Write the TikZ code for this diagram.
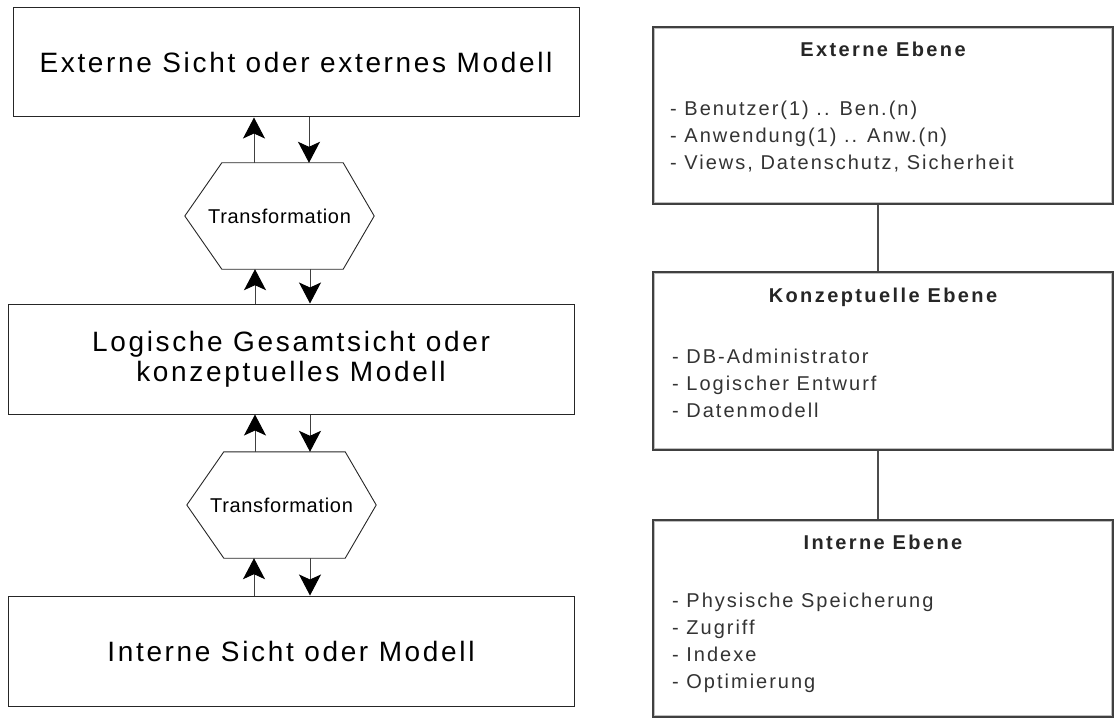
\documentclass[tikz,border=0pt]{standalone}
\usepackage{fontspec}
\setmainfont{Liberation Sans}
\newfontfamily\bigfont[LetterSpace=9.5]{Liberation Sans}
\newfontfamily\hexfont[LetterSpace=3.5]{Liberation Sans}
\newfontfamily\itemfont[LetterSpace=10]{Liberation Sans}
\newfontfamily\titlefont[LetterSpace=12]{Liberation Sans Bold}
\usetikzlibrary{arrows.meta}
\tikzset{
  lbox/.style={draw=black!85, line width=1pt, fill=white, rectangle, inner sep=0pt,
    align=center, font=\bigfont\fontsize{28pt}{30pt}\selectfont},
  hexline/.style={draw=black!85, line width=0.9pt},
  hexnode/.style={rectangle, inner sep=0pt, font=\hexfont\fontsize{20pt}{22pt}\selectfont},
  arr/.style={draw=black!75, line width=1pt, -{Stealth[length=21pt, width=22pt, inset=5pt, color=black]}},
  rbox/.style={draw=black!75, line width=2.5pt, rectangle, inner sep=0pt, fill=white},
  rinner/.style={draw=black!25, line width=1.5pt},
  rtitle/.style={anchor=base, inner sep=0pt, text=black!85, font=\titlefont\fontsize{20pt}{22pt}\selectfont},
  ritem/.style={anchor=base west, inner sep=0pt, text=black!80, font=\itemfont\fontsize{20pt}{22pt}\selectfont},
  rlink/.style={draw=black!70, line width=2pt}
}
\begin{document}
\begin{tikzpicture}[x=1pt, y=-1pt]
\useasboundingbox (0,0) rectangle (1115,719);

% ---------- left diagram ----------
\node[lbox, minimum width=566pt, minimum height=109pt] (b1) at (296,62.5) {Externe Sicht oder externes Modell};
\node[lbox, minimum width=566pt, minimum height=110pt] (b2) at (291,359) {Logische Gesamtsicht oder\\konzeptuelles Modell};
\node[lbox, minimum width=566pt, minimum height=110pt] (b3) at (291,651) {Interne Sicht oder Modell};

\node[hexnode, minimum width=189pt, minimum height=106pt] (h1) at (279.5,216) {Transformation};
\node[hexnode, minimum width=189pt, minimum height=106pt] (h2) at (281.5,505) {Transformation};

\draw[hexline] (h1.west) -- ([xshift=37pt]h1.north west) -- ([xshift=-31pt]h1.north east) -- (h1.east)
  -- ([xshift=-31pt]h1.south east) -- ([xshift=37pt]h1.south west) -- cycle;
\draw[hexline] (h2.west) -- ([xshift=37pt]h2.north west) -- ([xshift=-31pt]h2.north east) -- (h2.east)
  -- ([xshift=-31pt]h2.south east) -- ([xshift=37pt]h2.south west) -- cycle;

% arrows gap 1
\coordinate (u1) at ([xshift=-25.5pt]h1.north);
\coordinate (d1) at ([xshift=29.5pt]h1.north);
\draw[arr] (u1) -- (u1 |- b1.south);
\draw[arr] (d1 |- b1.south) -- (d1);
% arrows gap 2
\coordinate (u2) at ([xshift=-24.5pt]h1.south);
\coordinate (d2) at ([xshift=30.5pt]h1.south);
\draw[arr] (u2 |- b2.north) -- (u2);
\draw[arr] (d2) -- (d2 |- b2.north);
% arrows gap 3
\coordinate (u3) at ([xshift=-26.5pt]h2.north);
\coordinate (d3) at ([xshift=28.5pt]h2.north);
\draw[arr] (u3) -- (u3 |- b2.south);
\draw[arr] (d3 |- b2.south) -- (d3);
% arrows gap 4
\coordinate (u4) at ([xshift=-27.5pt]h2.south);
\coordinate (d4) at ([xshift=28.5pt]h2.south);
\draw[arr] (u4 |- b3.north) -- (u4);
\draw[arr] (d4) -- (d4 |- b3.north);

% ---------- right diagram ----------
\node[rbox, minimum width=460pt, minimum height=177pt] (rA) at (883,115.5) {};
\node[rbox, minimum width=460pt, minimum height=178pt] (rB) at (883,361) {};
\node[rbox, minimum width=460pt, minimum height=197pt] (rC) at (883,618.5) {};
\draw[rinner] ([shift={(2.8pt,-2.8pt)}]rA.north west) rectangle ([shift={(-2.8pt,2.8pt)}]rA.south east);
\draw[rinner] ([shift={(2.8pt,-2.8pt)}]rB.north west) rectangle ([shift={(-2.8pt,2.8pt)}]rB.south east);
\draw[rinner] ([shift={(2.8pt,-2.8pt)}]rC.north west) rectangle ([shift={(-2.8pt,2.8pt)}]rC.south east);

\draw[rlink] ([xshift=-5pt]rA.south) -- ([xshift=-5pt]rB.north);
\draw[rlink] ([xshift=-5pt]rB.south) -- ([xshift=-5pt]rC.north);

\node[rtitle] (tA) at (883,57) {Externe Ebene};
\node[ritem] (a1) at (670,115.5) {- Benutzer(1) .. Ben.(n)};
\node[ritem] (a2) at (670,142.5) {- Anwendung(1) .. Anw.(n)};
\node[ritem] (a3) at (670,169.5) {- Views, Datenschutz, Sicherheit};

\node[rtitle] (tB) at (883,302) {Konzeptuelle Ebene};
\node[ritem] (k1) at (672,363.5) {- DB-Administrator};
\node[ritem] (k2) at (672,390.5) {- Logischer Entwurf};
\node[ritem] (k3) at (672,417.5) {- Datenmodell};

\node[rtitle] (tC) at (883,549) {Interne Ebene};
\node[ritem] (i1) at (672,607.5) {- Physische Speicherung};
\node[ritem] (i2) at (672,634.5) {- Zugriff};
\node[ritem] (i3) at (672,661.5) {- Indexe};
\node[ritem] (i4) at (672,688.5) {- Optimierung};
\end{tikzpicture}
\end{document}
